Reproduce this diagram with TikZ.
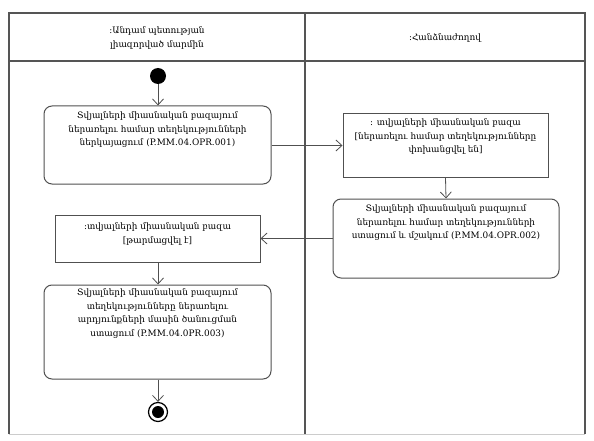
\documentclass[tikz,border=0pt]{standalone}
\usepackage{fontspec}
\setmainfont{DejaVu Serif}
\usetikzlibrary{arrows.meta}
\definecolor{lanec}{HTML}{555555}
\definecolor{boxc}{HTML}{505050}
\tikzset{
  lane/.style={draw=lanec, line width=1.4pt},
  actbox/.style={draw=boxc, line width=1pt, rounded corners=8pt, rectangle},
  objbox/.style={draw=boxc, line width=1pt, rectangle},
  txt/.style={font=\fontsize{8.9}{13.6}\selectfont, align=center, inner sep=0pt, text=black},
  flow/.style={draw=boxc, line width=0.8pt, -{Straight Barb[length=6pt,width=11pt,line width=0.8pt]}},
}
\begin{document}
\begin{tikzpicture}[x=1pt,y=-1pt]
\useasboundingbox (0,0) rectangle (594,441);
% swimlanes
\coordinate (tl) at (9,13);
\coordinate (tr) at (585,13);
\coordinate (bl) at (9,434);
\coordinate (br) at (585,434);
\coordinate (hl) at (9,61);
\coordinate (hr) at (585,61);
\coordinate (dt) at (305,13);
\coordinate (db) at (305,434);
\draw[draw=black!20, line width=1pt] (bl) -- (br);
\draw[lane] (bl) -- (tl) -- (tr) -- (br);
\draw[lane] (hl) -- (hr);
\draw[lane] (dt) -- (db);
\node[txt] (h1) at (157,38) {:Անդամ պետության\\լիազորված մարմին};
\node[txt] (h2) at (445,38) {:Հանձնաժողով};
% initial
\node[circle, fill=black, minimum size=16pt, inner sep=0pt] (start) at (158,76) {};
% box1
\node[actbox, minimum width=227pt, minimum height=78pt] (b1) at (157.5,145) {};
\node[txt, anchor=north] (b1t) at ([yshift=-6pt]b1.north) {Տվյալների միասնական բազայում\\ներառելու համար տեղեկությունների\\ներկայացում (P.MM.04.OPR.001)};
% obj1
\node[objbox, minimum width=205pt, minimum height=63pt] (o1) at (445.5,145.5) {};
\node[txt, anchor=north] (o1t) at ([yshift=-5pt]o1.north) {: տվյալների միասնական բազա\\{}[ներառելու համար տեղեկությունները\\փոխանցվել են]};
% box2
\node[actbox, minimum width=226pt, minimum height=79pt] (b2) at (446,238.5) {};
\node[txt, anchor=north] (b2t) at ([yshift=-6pt]b2.north) {Տվյալների միասնական բազայում\\ներառելու համար տեղեկությունների\\ստացում և մշակում (P.MM.04.OPR.002)};
% obj2
\node[objbox, minimum width=205pt, minimum height=47pt] (o2) at (157.5,238.5) {};
\node[txt, anchor=north] (o2t) at ([yshift=-8pt]o2.north) {:տվյալների միասնական բազա\\{}[թարմացվել է]};
% box3
\node[actbox, minimum width=227pt, minimum height=94pt] (b3) at (157.5,332) {};
\node[txt, anchor=north] (b3t) at ([yshift=-4pt]b3.north) {Տվյալների միասնական բազայում\\տեղեկությունները ներառելու\\արդյունքների մասին ծանուցման\\ստացում (P.MM.04.0PR.003)};
% final
\node[circle, draw=black, line width=1.2pt, minimum size=19pt, inner sep=0pt] (end) at (158,412) {};
\node[circle, fill=black, minimum size=12pt, inner sep=0pt] (endin) at (end) {};
% flows
\draw[flow] (start) -- (b1.north -| start);
\draw[flow] (b1.east |- o1) -- (o1.west);
\draw[flow] (o1.south) -- (b2.north);
\draw[flow] (b2.west) -- (o2.east);
\draw[flow] (o2.south -| start) -- (b3.north -| start);
\draw[flow] (b3.south -| end) -- (end.north);
\end{tikzpicture}
\end{document}
